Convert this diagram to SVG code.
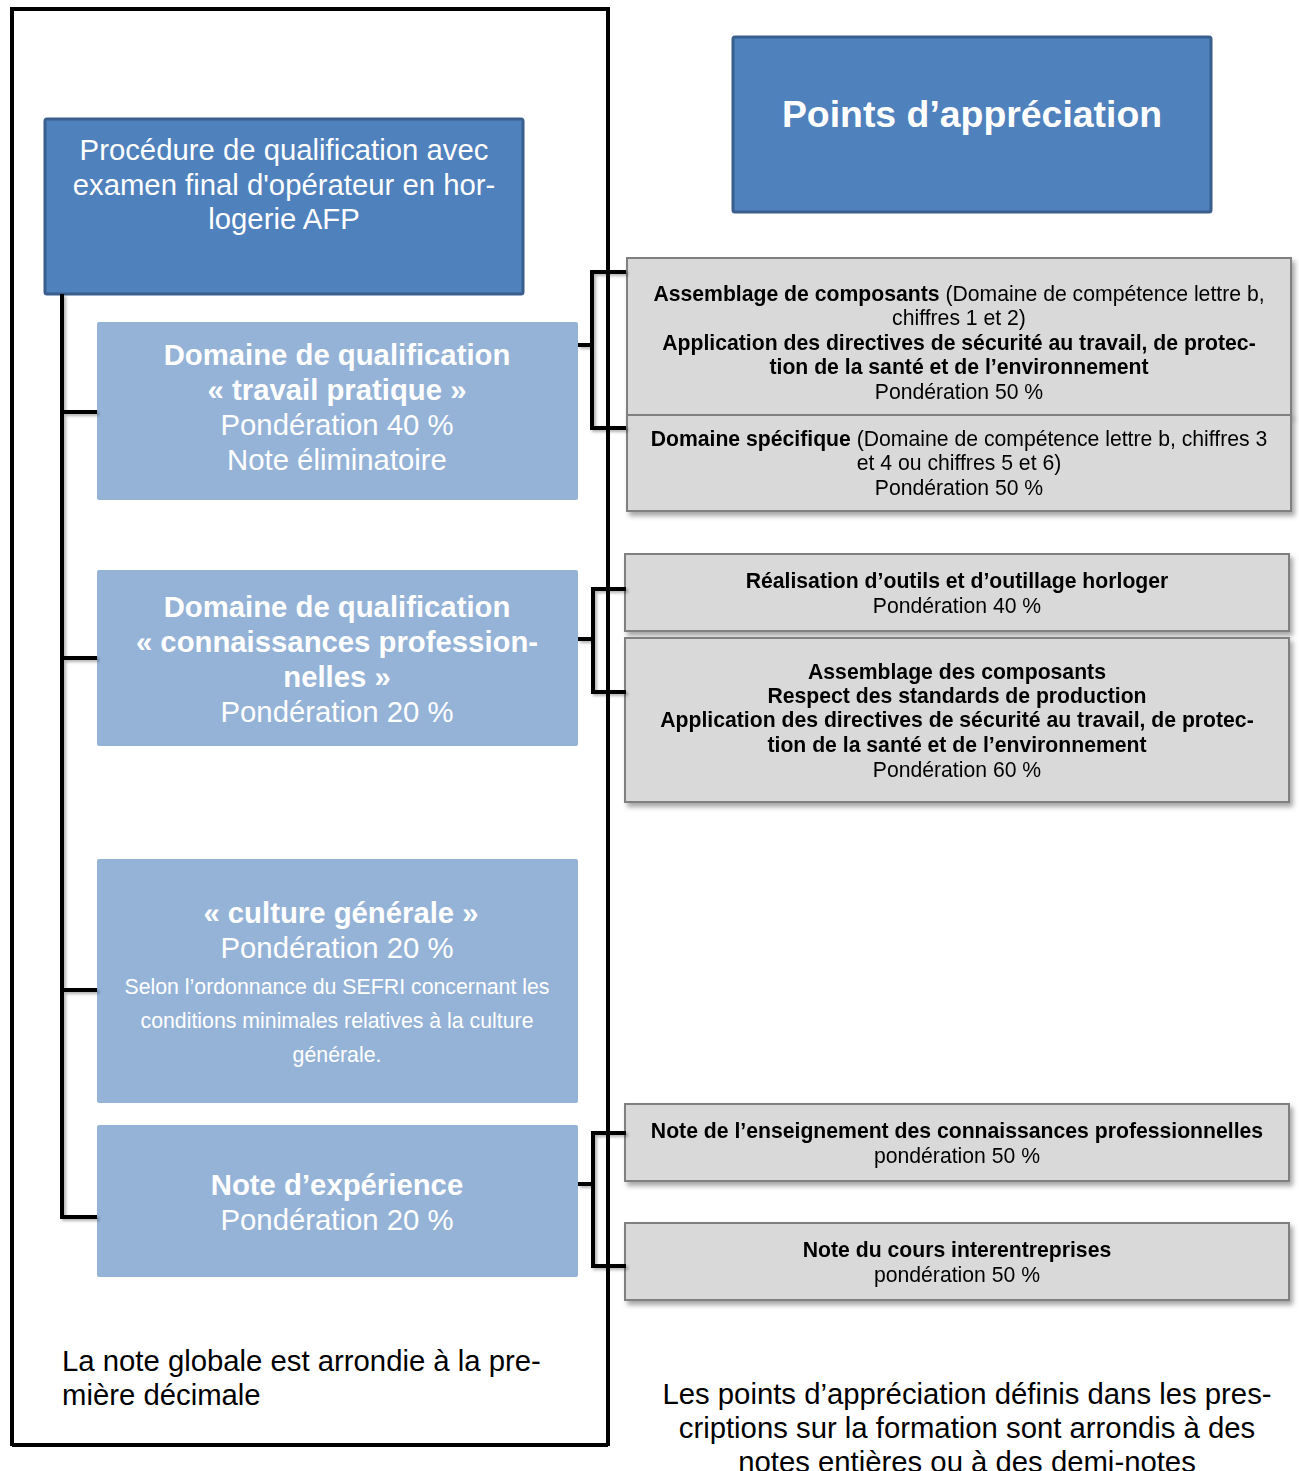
<svg xmlns="http://www.w3.org/2000/svg" width="1299" height="1471" viewBox="0 0 1299 1471">
<style>
  text { font-family: "Liberation Sans", Arial, sans-serif; }
  .dark { fill: #4F81BD; stroke: #3A5F8C; stroke-width: 3; }
  .light { fill: #95B3D7; }
  .gray { fill: #D9D9D9; stroke: #808080; stroke-width: 2; }
  .wt { fill: #FFFFFF; text-anchor: middle; font-size: 29.3px; }
  .b { font-weight: bold; }
  .gt { fill: #000000; text-anchor: middle; font-size: 21.2px; }
  .line { stroke: #000000; stroke-width: 4; fill: none; }
  .bt { fill: #000000; font-size: 29.3px; }
</style>
<defs>
  <filter id="sh" x="-5%" y="-10%" width="115%" height="130%">
    <feDropShadow dx="3" dy="4" stdDeviation="2.5" flood-color="#000" flood-opacity="0.35"/>
  </filter>
  <filter id="lsh" x="-20%" y="-20%" width="140%" height="140%">
    <feDropShadow dx="2" dy="2" stdDeviation="1.5" flood-color="#000" flood-opacity="0.3"/>
  </filter>
</defs>

<g id="frame">
  <path class="line" d="M12,1446 L12,9 L608,9 L608,1446 M12,1445 L608,1445"/>
</g>

<g id="node-procedure">
  <rect class="dark" x="45" y="119" width="478" height="175" rx="2"/>
  <text class="wt" x="284" y="160">Procédure de qualification avec</text>
  <text class="wt" x="284" y="195">examen final d'opérateur en hor-</text>
  <text class="wt" x="284" y="229">logerie AFP</text>
</g>

<g id="node-points">
  <rect class="dark" x="733" y="37" width="478" height="175" rx="2"/>
  <text class="wt b" x="972" y="127" style="font-size:37.4px">Points d’appréciation</text>
</g>

<g id="node-travail">
  <rect class="light" x="97" y="322" width="481" height="178" rx="2"/>
  <text class="wt b" x="337" y="365">Domaine de qualification</text>
  <text class="wt b" x="337" y="400">« travail pratique »</text>
  <text class="wt" x="337" y="435">Pondération 40 %</text>
  <text class="wt" x="337" y="470">Note éliminatoire</text>
</g>

<g id="node-connaissances">
  <rect class="light" x="97" y="570" width="481" height="176" rx="2"/>
  <text class="wt b" x="337" y="617">Domaine de qualification</text>
  <text class="wt b" x="337" y="652">« connaissances profession-</text>
  <text class="wt b" x="337" y="687">nelles »</text>
  <text class="wt" x="337" y="722">Pondération 20 %</text>
</g>

<g id="node-culture">
  <rect class="light" x="97" y="859" width="481" height="244" rx="2"/>
  <text class="wt b" x="341" y="923">« culture générale »</text>
  <text class="wt" x="337" y="958">Pondération 20 %</text>
  <text class="wt" x="337" y="994" style="font-size:21.3px">Selon l’ordonnance du SEFRI concernant les</text>
  <text class="wt" x="337" y="1028" style="font-size:21.3px">conditions minimales relatives à la culture</text>
  <text class="wt" x="337" y="1062" style="font-size:21.3px">générale.</text>
</g>

<g id="node-experience">
  <rect class="light" x="97" y="1125" width="481" height="152" rx="2"/>
  <text class="wt b" x="337" y="1195">Note d’expérience</text>
  <text class="wt" x="337" y="1230">Pondération 20 %</text>
</g>

<g id="node-assemblage" filter="url(#sh)">
  <rect class="gray" x="627" y="258" width="664" height="157"/>
  <text class="gt" x="959" y="301"><tspan class="b">Assemblage de composants</tspan> (Domaine de compétence lettre b,</text>
  <text class="gt" x="959" y="325">chiffres 1 et 2)</text>
  <text class="gt b" x="959" y="350">Application des directives de sécurité au travail, de protec-</text>
  <text class="gt b" x="959" y="374">tion de la santé et de l’environnement</text>
  <text class="gt" x="959" y="399">Pondération 50 %</text>
</g>

<g id="node-specifique" filter="url(#sh)">
  <rect class="gray" x="627" y="415" width="664" height="96"/>
  <text class="gt" x="959" y="446"><tspan class="b">Domaine spécifique</tspan> (Domaine de compétence lettre b, chiffres 3</text>
  <text class="gt" x="959" y="470">et 4 ou chiffres 5 et 6)</text>
  <text class="gt" x="959" y="495">Pondération 50 %</text>
</g>

<g id="node-outils" filter="url(#sh)">
  <rect class="gray" x="625" y="554" width="664" height="77"/>
  <text class="gt b" x="957" y="588">Réalisation d’outils et d’outillage horloger</text>
  <text class="gt" x="957" y="613">Pondération 40 %</text>
</g>

<g id="node-assemblage-comp" filter="url(#sh)">
  <rect class="gray" x="625" y="638" width="664" height="164"/>
  <text class="gt b" x="957" y="679">Assemblage des composants</text>
  <text class="gt b" x="957" y="703">Respect des standards de production</text>
  <text class="gt b" x="957" y="727">Application des directives de sécurité au travail, de protec-</text>
  <text class="gt b" x="957" y="752">tion de la santé et de l’environnement</text>
  <text class="gt" x="957" y="777">Pondération 60 %</text>
</g>

<g id="node-enseignement" filter="url(#sh)">
  <rect class="gray" x="625" y="1104" width="664" height="77"/>
  <text class="gt b" x="957" y="1138">Note de l’enseignement des connaissances professionnelles</text>
  <text class="gt" x="957" y="1163">pondération 50 %</text>
</g>

<g id="node-cours" filter="url(#sh)">
  <rect class="gray" x="625" y="1223" width="664" height="77"/>
  <text class="gt b" x="957" y="1257">Note du cours interentreprises</text>
  <text class="gt" x="957" y="1282">pondération 50 %</text>
</g>

<g id="connectors" filter="url(#lsh)">
  <path class="line" d="M62,294 L62,1217 L97,1217"/>
  <path class="line" d="M62,412 L97,412 M62,658 L97,658 M62,990 L97,990"/>
  <path class="line" d="M578,345 L592,345 M626,272 L592,272 L592,428 L626,428"/>
  <path class="line" d="M578,639 L593,639 M626,589 L593,589 L593,692 L626,692"/>
  <path class="line" d="M578,1184 L593,1184 M626,1133 L593,1133 L593,1266 L626,1266"/>
</g>

<g id="notes">
  <text class="bt" x="62" y="1371">La note globale est arrondie à la pre-</text>
  <text class="bt" x="62" y="1405">mière décimale</text>
  <text class="bt" x="967" y="1404" text-anchor="middle">Les points d’appréciation définis dans les pres-</text>
  <text class="bt" x="967" y="1438" text-anchor="middle">criptions sur la formation sont arrondis à des</text>
  <text class="bt" x="967" y="1472" text-anchor="middle">notes entières ou à des demi-notes</text>
</g>
</svg>
